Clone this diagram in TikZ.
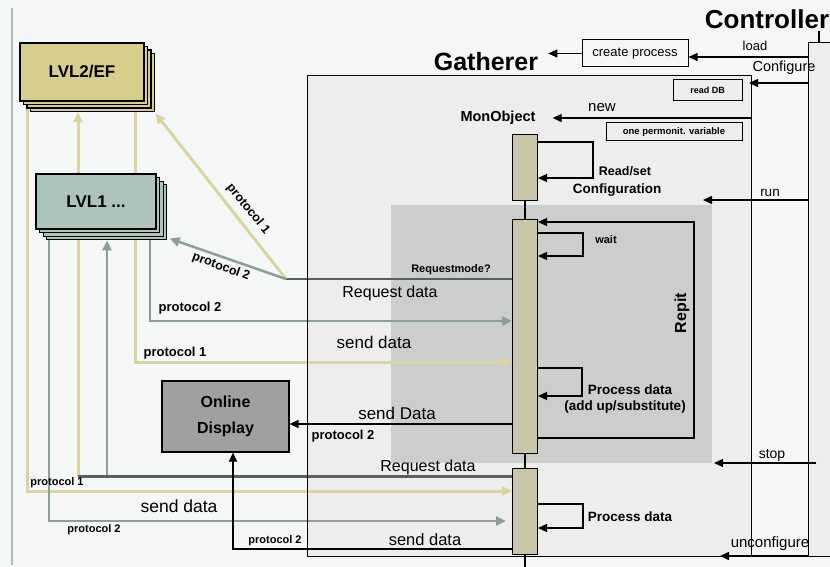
\documentclass[tikz,border=0pt]{standalone}
\usepackage{fontspec}
\setmainfont{Liberation Sans}
\usetikzlibrary{arrows.meta,shadows}
\pgfdeclarelayer{bg}
\pgfdeclarelayer{lines}
\pgfsetlayers{bg,lines,main}
\definecolor{pagebg}{RGB}{245,247,246}
\definecolor{gathbg}{RGB}{237,237,237}
\definecolor{shadec}{RGB}{203,206,203}
\definecolor{ylw}{RGB}{218,213,158}
\definecolor{grn}{RGB}{140,158,150}
\definecolor{dk}{RGB}{88,96,92}
\definecolor{lvltwo}{RGB}{214,206,138}
\definecolor{lvlone}{RGB}{172,196,188}
\definecolor{online}{RGB}{160,160,160}
\definecolor{barc}{RGB}{202,198,170}
\definecolor{margin}{RGB}{178,182,194}
\newcommand\myfsz[1]{\fontsize{#1}{#1}\selectfont}
\begin{document}
\begin{tikzpicture}[x=1pt,y=-1pt,
  txt/.style={inner sep=0pt,font=\myfsz{#1}},
  btxt/.style={inner sep=0pt,font=\bfseries\myfsz{#1}},
  msg/.style={draw=black,line width=1.1pt,-{Triangle[length=9pt,width=8pt]}},
  plain/.style={draw=black,line width=1.1pt},
  yarr/.style={draw=ylw,line width=3pt,-{Triangle[length=10pt,width=9pt]}},
  garr/.style={draw=grn,line width=2.5pt,-{Triangle[length=10pt,width=9pt]}},
  bar/.style={draw=black,line width=1pt,fill=barc,minimum width=25pt,inner sep=0pt},
  stack/.style 2 args={draw=black,line width=1.2pt,fill=#1,inner sep=0pt,
    general shadow={fill=#1,draw=black,line width=1.2pt,shadow xshift=3*#2,shadow yshift=-3*#2},
    general shadow={fill=#1,draw=black,line width=1.2pt,shadow xshift=2*#2,shadow yshift=-2*#2},
    general shadow={fill=#1,draw=black,line width=1.2pt,shadow xshift=#2,shadow yshift=-#2}},
  boxed/.style={draw=black,line width=1pt,inner sep=0pt}
]
\useasboundingbox (0,0) rectangle (830,567);
\begin{pgfonlayer}{bg}
  \fill[pagebg] (0,0) rectangle (830,567);
  \draw[margin,line width=2pt] (12,8) -- (12,565);
  \fill[gathbg] (307,76) rectangle (751,556);
  \fill[gathbg] (808,43) rectangle (830,556);
  \fill[shadec] (391,205) rectangle (712,463);
\end{pgfonlayer}

% frames
\draw[black,line width=1pt] (307,76) rectangle (751,556);
\draw[black,line width=1pt] (830,43) -- (808,43) -- (808,556) -- (830,556);
\coordinate (ctl) at (808,43);
\coordinate (gr) at (751,76);

% titles
\node[btxt=26] (ctrl) at (767,19) {Controller};
\node[btxt=25] (gath) at (486,62) {Gatherer};
\node[btxt=14.5] (mon) at (498,118) {MonObject};
\node[boxed,minimum width=106pt,minimum height=27pt,font=\myfsz{13}] (create) at (635,53.5) {create process};
\node[boxed,minimum width=69pt,minimum height=21pt,font=\bfseries\myfsz{9}] (readdb) at (707.5,90.5) {read DB};
\node[boxed,minimum width=136pt,minimum height=18pt,font=\bfseries\myfsz{9.5}] (onevar) at (674,132) {one permonit. variable};

% lifeline bars
\node[bar,minimum height=65pt] (bar1) at (525,167.5) {};
\node[bar,minimum height=234pt] (bar2) at (525,336) {};
\node[bar,minimum height=86pt] (bar3) at (525,511) {};

% external boxes
\node[stack={lvltwo}{3.5pt},minimum width=124pt,minimum height=58pt,font=\bfseries\myfsz{17}] (lvl2) at (82,72) {LVL2/EF};
\node[stack={lvlone}{3.6pt},minimum width=120pt,minimum height=55pt,font=\bfseries\myfsz{17}] (lvl1) at (96,201.5) {LVL1 ...};
\node[draw=black,line width=1.2pt,fill=online,minimum width=127pt,minimum height=71pt,align=center,font=\bfseries\fontsize{16}{26}\selectfont] (disp) at (225.5,416.5) {Online\\Display};

\coordinate (l2b) at ([yshift=-10.5pt]lvl2.south);
\coordinate (l1b) at ([yshift=-10.8pt]lvl1.south);
\coordinate (j) at (286,279);

\begin{pgfonlayer}{lines}
  \draw[yarr] (lvl2.south -| 27,0) -- (27,491) -- (bar3.west |- 0,491);
  \draw[yarr] (78,476) -- (l2b -| 78,0);
  \draw[garr] (107,476) -- (l1b -| 107,0);
  \draw[yarr] (lvl2.south -| 135,0) -- (135,362) -- (bar2.west |- 0,362);
  \draw[garr] (lvl1.south -| 150,0) -- (150,321) -- (bar2.west |- 0,321);
  \draw[garr] (lvl1.south -| 49,0) -- (49,521) -- ([xshift=-6pt]bar3.west |- 0,521);
  \draw[dk,line width=3pt] (bar3.west |- 0,476) -- (78,476);
  \draw[dk,line width=2.5pt] (bar2.west |- 0,279) -- (j);
  \draw[yarr] (j) -- ([shift={(11pt,-12pt)}]lvl2.south east);
  \draw[garr] (j) -- ([shift={(13pt,-9pt)}]lvl1.south east);
\end{pgfonlayer}

% messages to display
\draw[msg] (bar2.west |- 0,424) -- (disp.east |- 0,424);
\draw[msg] (bar3.west |- 0,549) -- (233,549) -- (disp.south -| 233,0);

% controller messages
\draw[plain] (819,31) -- (ctl -| 819,0);
\draw[msg] (ctl |- 0,57) -- (create.east |- 0,57);
\draw[msg] (create.west) -- ([xshift=10pt]gath.east |- create.west);
\draw[msg] (ctl |- 0,83) -- (749,83);
\draw[msg] (gr |- 0,118) -- ([xshift=17pt]mon.east);
\draw[msg] (ctl |- 0,200) -- (703,200);
\draw[msg] (816,463) -- (714,463);
\draw[msg,line width=1.6pt] (ctl |- 0,556) -- (720,556);

% self loops
\draw[msg] (bar1.east |- 0,142) -- (593,142) -- (593,178) -- (bar1.east |- 0,178);
\draw[msg] (bar2.east |- 0,233) -- (583,233) -- (583,256) -- (bar2.east |- 0,256);
\draw[msg] (bar2.east |- 0,438) -- (694,438) -- (694,222) -- (bar2.east |- 0,222);
\draw[msg] (bar2.east |- 0,368) -- (582,368) -- (582,396) -- (bar2.east |- 0,396);
\draw[msg] (bar3.east |- 0,504) -- (583,504) -- (583,528) -- (bar3.east |- 0,528);

% lifeline links
\draw[plain] (bar1.south) -- (bar2.north);
\draw[plain] (bar2.south) -- (bar3.north);
\draw[plain] (bar3.south) -- ++(0,12);

% labels
\node[txt=16] (tReqA) at (390,293) {Request data};
\node[btxt=13] (tP2a) at (190,308) {protocol 2};
\node[txt=17] (tSendA) at (374,342) {send data};
\node[btxt=13] (tP1a) at (175,353) {protocol 1};
\node[txt=17] (tSendB) at (397,413) {send Data};
\node[btxt=13] (tP2b) at (343,436) {protocol 2};
\node[txt=16] (tReqB) at (428,467) {Request data};
\node[btxt=11] (tP1b) at (57,483) {protocol 1};
\node[txt=17.5] (tSendC) at (179,506) {send data};
\node[btxt=11] (tP2c) at (94,530) {protocol 2};
\node[txt=16.5] (tSendD) at (425,540) {send data};
\node[btxt=11] (tP2d) at (275,541) {protocol 2};
\node[btxt=12.5,rotate=-50.6] (tP1diag) at (248,209) {protocol 1};
\node[btxt=12.5,rotate=-20] (tP2diag) at (221,267) {protocol 2};
\node[btxt=11] (tReqMode) at (451,270) {Requestmode?};
\node[txt=13] (tLoad) at (755,46) {load};
\node[txt=14.5] (tConf) at (784,68) {Configure};
\node[txt=15] (tNew) at (602,108) {new};
\node[btxt=12.5] (tRS) at (625,171) {Read/set};
\node[btxt=13.5] (tCfg) at (617,190) {Configuration};
\node[txt=13.5] (tRun) at (770,193) {run};
\node[btxt=11] (tWait) at (606,240) {wait};
\node[btxt=16,rotate=90] (tRepit) at (682,313) {Repit};
\node[btxt=13.5] (tPD) at (630,390) {Process data};
\node[btxt=13.5] (tAdd) at (625,407) {(add up/substitute)};
\node[txt=14] (tStop) at (772,455) {stop};
\node[txt=15] (tUncfg) at (770,544) {unconfigure};
\node[btxt=13.5] (tPD2) at (630,517) {Process data};
\end{tikzpicture}
\end{document}
